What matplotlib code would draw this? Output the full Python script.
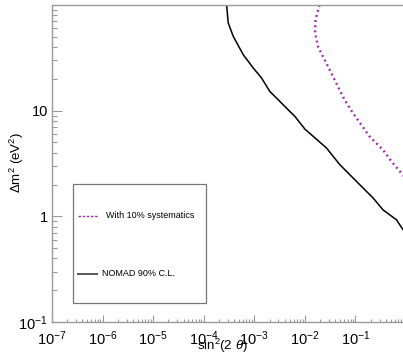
import matplotlib
matplotlib.use("Agg")
import matplotlib.pyplot as plt
from matplotlib.ticker import LogLocator, FixedLocator, FixedFormatter, NullFormatter
from matplotlib.lines import Line2D
from matplotlib.patches import Rectangle

# ---- data ----
nomad_sin2 = [2.84e-4, 3.05e-4, 3.83e-4, 6.04e-4, 9.5e-4, 1.39e-3, 2.03e-3, 2.96e-3,
              4.67e-3, 6.34e-3, 1.0e-2, 2.68e-2, 4.92e-2, 0.105, 0.224, 0.352, 0.649,
              0.877, 1.0]
nomad_dm2 = [100, 67.8, 50.6, 33.9, 25.4, 20.4, 15.2, 12.7, 10.2, 8.83, 6.70, 4.43,
             3.08, 2.14, 1.49, 1.15, 0.927, 0.745, 0.69]

syst_sin2 = [0.01954, 0.01626, 0.01596, 0.01807, 0.02449, 0.0331, 0.0449, 0.0609,
             0.0889, 0.130, 0.190, 0.348, 0.548, 0.865, 1.0]
syst_dm2 = [100, 72.9, 54.5, 40.7, 30.4, 22.8, 17.0, 12.7, 9.51, 7.37, 5.70, 4.27,
            3.19, 2.47, 2.25]

x_ticks = [1e-7, 1e-6, 1e-5, 1e-4, 1e-3, 1e-2, 1e-1]
x_labels = [r'$10^{-7}$', r'$10^{-6}$', r'$10^{-5}$', r'$10^{-4}$', r'$10^{-3}$', r'$10^{-2}$', r'$10^{-1}$']
y_ticks = [0.1, 1, 10]
y_labels = [r'$10^{-1}$', '1', '10']

legend_labels = ['With 10% systematics', 'NOMAD 90% C.L.']

plt.rcParams['font.family'] = ['Liberation Sans', 'DejaVu Sans']
plt.rcParams['mathtext.fontset'] = 'custom'
plt.rcParams['mathtext.rm'] = 'Liberation Sans'
plt.rcParams['mathtext.it'] = 'Liberation Sans:italic'
plt.rcParams['mathtext.bf'] = 'Liberation Sans:bold'

W, H = 403, 354
fig = plt.figure(figsize=(W / 100, H / 100), dpi=100)
x0, x1 = 52, 406
y0, y1 = 322, 5
ax = fig.add_axes([x0 / W, 1 - y0 / H, (x1 - x0) / W, (y0 - y1) / H])
ax.set_xscale('log')
ax.set_yscale('log')
ax.set_xlim(1e-7, 1)
ax.set_ylim(0.1, 100)

magenta = '#a126ad'
ax.plot(nomad_sin2, nomad_dm2, color='black', lw=1.1, solid_joinstyle='round')
ax.plot(syst_sin2, syst_dm2, color=magenta, lw=1.7, linestyle=(0, (0.8, 1.4)),
        dash_capstyle='butt')

spine_col = '#9a9a9a'
for s in ax.spines.values():
    s.set_color(spine_col)
    s.set_linewidth(1.0)
ax.spines['right'].set_visible(False)

ax.xaxis.set_major_locator(FixedLocator(x_ticks))
ax.xaxis.set_major_formatter(FixedFormatter(x_labels))
ax.xaxis.set_minor_locator(LogLocator(base=10, subs=range(2, 10), numticks=20))
ax.xaxis.set_minor_formatter(NullFormatter())
ax.yaxis.set_major_locator(FixedLocator(y_ticks))
ax.yaxis.set_major_formatter(FixedFormatter(y_labels))
ax.yaxis.set_minor_locator(LogLocator(base=10, subs=range(2, 10), numticks=20))
ax.yaxis.set_minor_formatter(NullFormatter())

ax.tick_params(axis='x', which='major', direction='in', length=4.7, width=0.8,
               color=spine_col, labelsize=10.5, pad=5)
ax.tick_params(axis='x', which='minor', direction='in', length=2.4, width=0.8, color=spine_col)
ax.tick_params(axis='y', which='major', direction='in', length=7.2, width=0.8,
               color=spine_col, labelsize=10.5, pad=3)
ax.tick_params(axis='y', which='minor', direction='in', length=3.6, width=0.8, color=spine_col)

# axis titles
fig.text(222 / W, 1 - 346 / H, r'sin$^2$(2 $\theta$)', ha='center', va='center', fontsize=9.5)
fig.text(17 / W, 1 - 162 / H, r'$\Delta$m$^2$ (eV$^2$)', ha='center', va='center',
         rotation=90, fontsize=9.5)

# legend box (pixel-positioned)
def px(xp, yp):
    return xp / W, 1 - yp / H

bx0, by0 = px(72.5, 303)
bx1, by1 = px(206, 184)
fig.patches.append(Rectangle((bx0, by0), bx1 - bx0, by1 - by0, transform=fig.transFigure,
                             facecolor='white', edgecolor='#777777', lw=0.9, zorder=5))
lx = [px(78, 0)[0], px(97, 0)[0]]
fig.lines.append(Line2D(lx, [px(0, 216)[1]] * 2, transform=fig.transFigure, color=magenta,
                        lw=1.0, linestyle=(0, (1.8, 1.2)), zorder=6))
fig.lines.append(Line2D(lx, [px(0, 274)[1]] * 2, transform=fig.transFigure, color='#555555',
                        lw=1.4, zorder=6))
fig.text(*px(106, 216), legend_labels[0], ha='left', va='center', fontsize=6.5, zorder=7)
fig.text(*px(102, 274), legend_labels[1], ha='left', va='center', fontsize=6.5, zorder=7)

fig.savefig('out.png', dpi=100, facecolor='white')
